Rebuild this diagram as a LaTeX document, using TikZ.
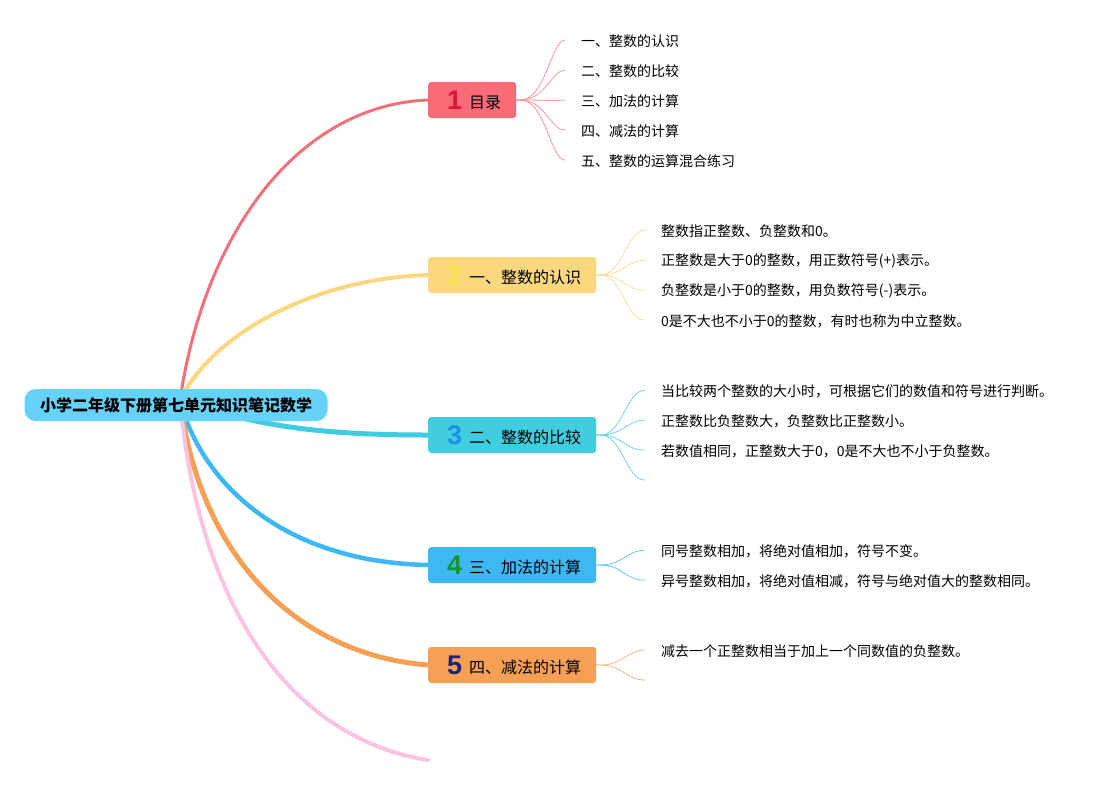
\documentclass[tikz,border=0pt]{standalone}
\usepackage{fontspec}
\setmainfont{Noto Sans CJK SC}
\newfontfamily\numfont{Liberation Sans}
\usetikzlibrary{positioning}
\pgfdeclarelayer{bg}
\pgfsetlayers{bg,main}
\definecolor{rootc}{RGB}{102,210,250}
\definecolor{c1}{RGB}{249,107,119}
\definecolor{c2}{RGB}{251,215,126}
\definecolor{c3}{RGB}{64,205,224}
\definecolor{c4}{RGB}{62,184,243}
\definecolor{c5}{RGB}{245,160,85}
\definecolor{l1}{RGB}{240,112,124}
\definecolor{l6}{RGB}{250,195,225}
\definecolor{s1}{RGB}{244,150,158}
\definecolor{s2}{RGB}{250,222,155}
\definecolor{s3}{RGB}{115,212,228}
\definecolor{s4}{RGB}{105,195,240}
\definecolor{s5}{RGB}{245,185,130}
\definecolor{n1}{RGB}{220,20,60}
\definecolor{n2}{RGB}{248,226,72}
\definecolor{n3}{RGB}{30,144,230}
\definecolor{n4}{RGB}{20,150,50}
\definecolor{n5}{RGB}{30,35,120}
\tikzset{
  rootbox/.style={fill=rootc, rounded corners=11pt, minimum height=32pt, inner xsep=15.5pt, inner ysep=0pt, font=\fontsize{16}{18}\selectfont\bfseries},
  mainbox/.style={anchor=west, rounded corners=3pt, minimum height=36pt, inner xsep=0pt, inner ysep=0pt, font=\fontsize{16}{18}\selectfont},
  leaf/.style={anchor=west, inner sep=0pt, font=\fontsize{14}{16}\selectfont},
  branch/.style={line cap=round},
  twig/.style={line width=0.8pt},
}
\newcommand{\nm}[2]{\raisebox{-1pt}{\numfont\fontsize{27}{27}\selectfont\bfseries\color{#1}#2}}
\begin{document}
\begin{tikzpicture}[x=1pt,y=-1pt]
\useasboundingbox (0,0) rectangle (1113,785);

\node[rootbox] (root) at (176,405) {小学二年级下册第七单元知识笔记数学};
\coordinate (o) at (180,400);

\node[mainbox, fill=c1] (m1) at (428,100) {\kern19pt\nm{n1}{1}\kern7pt目录\kern15pt};
\node[mainbox, fill=c2] (m2) at (428,275) {\kern19pt\nm{n2}{2}\kern7pt一、整数的认识\kern15pt};
\node[mainbox, fill=c3] (m3) at (428,435) {\kern19pt\nm{n3}{3}\kern7pt二、整数的比较\kern15pt};
\node[mainbox, fill=c4] (m4) at (428,565) {\kern19pt\nm{n4}{4}\kern7pt三、加法的计算\kern15pt};
\node[mainbox, fill=c5] (m5) at (428,665) {\kern19pt\nm{n5}{5}\kern7pt四、减法的计算\kern15pt};
\coordinate (e6) at (428,760);

% leaves
\node[leaf] (a1) at (581,41) {一、整数的认识};
\node[leaf] (a2) at (581,71) {二、整数的比较};
\node[leaf] (a3) at (581,101) {三、加法的计算};
\node[leaf] (a4) at (581,131) {四、减法的计算};
\node[leaf] (a5) at (581,161) {五、整数的运算混合练习};

\node[leaf] (b1) at (661,231) {整数指正整数、负整数和0。};
\node[leaf] (b2) at (661,261) {正整数是大于0的整数，用正数符号(+)表示。};
\node[leaf] (b3) at (661,291) {负整数是小于0的整数，用负数符号(-)表示。};
\node[leaf] (b4) at (661,321) {0是不大也不小于0的整数，有时也称为中立整数。};

\node[leaf] (c1n) at (661,391) {当比较两个整数的大小时，可根据它们的数值和符号进行判断。};
\node[leaf] (c2n) at (661,421) {正整数比负整数大，负整数比正整数小。};
\node[leaf] (c3n) at (661,451) {若数值相同，正整数大于0，0是不大也不小于负整数。};
\coordinate (c4n) at (661,480);

\node[leaf] (d1) at (661,551) {同号整数相加，将绝对值相加，符号不变。};
\node[leaf] (d2) at (661,581) {异号整数相加，将绝对值相减，符号与绝对值大的整数相同。};

\node[leaf] (f1) at (661,651) {减去一个正整数相当于加上一个同数值的负整数。};
\coordinate (f2) at (661,680);

\begin{pgfonlayer}{bg}
\fill[white] (0,0) rectangle (1113,785);
\draw[branch, l1, line width=3pt] (o) .. controls (205,230) and (300,105) .. (m1.west);
\draw[branch, c2, line width=4pt] (o) .. controls (215,330) and (320,278) .. (m2.west);
\draw[branch, c3, line width=5pt] (o) .. controls (260,428) and (330,435) .. (m3.west);
\draw[branch, c4, line width=4.5pt] (o) .. controls (200,480) and (280,562) .. (m4.west);
\draw[branch, c5, line width=5pt] (o) .. controls (200,560) and (300,655) .. (m5.west);
\draw[branch, l6, line width=4pt] (o) .. controls (200,620) and (300,740) .. (e6);

\foreach \t in {a1,a2,a3,a4,a5}
  \draw[twig, s1] (m1.east) -- ++(4,0) .. controls +(25,0) and ([xshift=-30pt]\t.west) .. ([xshift=-16pt,yshift=1pt]\t.west);
\foreach \t in {b1,b2,b3,b4}
  \draw[twig, s2] (m2.east) -- ++(4,0) .. controls +(22,0) and ([xshift=-35pt]\t.west) .. ([xshift=-16pt,yshift=1pt]\t.west);
\foreach \t in {c1n,c2n,c3n}
  \draw[twig, s3] (m3.east) -- ++(4,0) .. controls +(22,0) and ([xshift=-35pt]\t.west) .. ([xshift=-16pt,yshift=1pt]\t.west);
\draw[twig, s3] (m3.east) -- ++(4,0) .. controls +(22,0) and ([xshift=-35pt]c4n) .. ([xshift=-16pt]c4n);
\foreach \t in {d1,d2}
  \draw[twig, s4] (m4.east) -- ++(4,0) .. controls +(22,0) and ([xshift=-35pt]\t.west) .. ([xshift=-16pt,yshift=1pt]\t.west);
\draw[twig, s5] (m5.east) -- ++(4,0) .. controls +(22,0) and ([xshift=-35pt]f1.west) .. ([xshift=-16pt,yshift=1pt]f1.west);
\draw[twig, s5] (m5.east) -- ++(4,0) .. controls +(22,0) and ([xshift=-35pt]f2) .. ([xshift=-16pt]f2);
\end{pgfonlayer}
\end{tikzpicture}
\end{document}
